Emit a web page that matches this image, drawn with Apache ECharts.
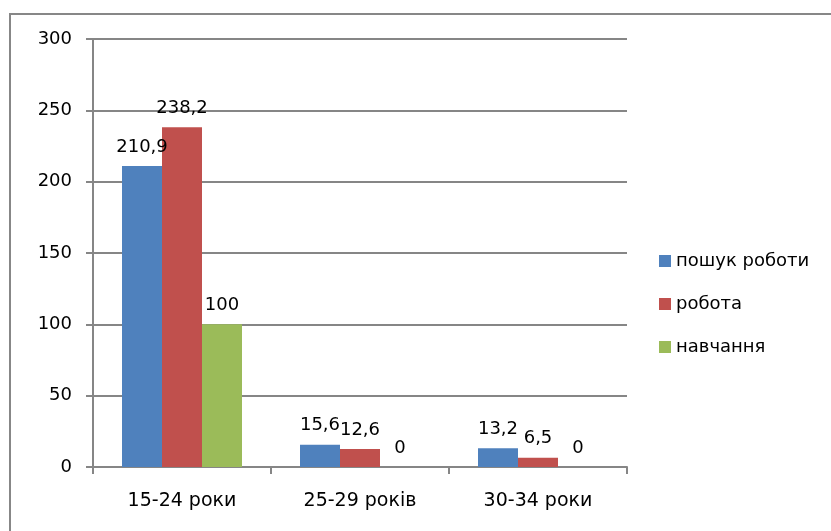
<!DOCTYPE html>
<html>
<head>
<meta charset="utf-8">
<script src="https://cdn.jsdelivr.net/npm/echarts@6/dist/echarts.min.js"></script>
<style>
html,body{margin:0;padding:0;background:#fff;}
#chart{width:831px;height:531px;}
</style>
</head>
<body>
<div id="chart"></div>
<script>
const categories = ['15-24 роки', '25-29 років', '30-34 роки'];
const seriesNames = ['пошук роботи', 'робота', 'навчання'];
const jobSearch = [210.9, 15.6, 13.2];
const work = [238.2, 12.6, 6.5];
const study = [100, 0, 0];
const yTicks = [0, 50, 100, 150, 200, 250, 300];

const colors = ['#4F81BD', '#C0504D', '#9BBB59'];
const font = 'DejaVu Sans';
const fmt = p => String(p.value).replace('.', ',');

function makeSeries(name, data, color) {
  return {
    name: name,
    type: 'bar',
    data: data,
    barWidth: 40,
    barGap: '0%',
    itemStyle: { color: color },
    label: {
      show: true,
      position: 'top',
      distance: 10,
      formatter: fmt,
      fontFamily: font,
      fontSize: 18,
      color: '#000'
    }
  };
}

const chart = echarts.init(document.getElementById('chart'), null, { renderer: 'canvas' });
chart.setOption({
  animation: false,
  backgroundColor: '#fff',
  graphic: [{
    type: 'rect',
    shape: { x: 10, y: 14, width: 840, height: 540 },
    style: { fill: 'none', stroke: '#878787', lineWidth: 2 },
    silent: true,
    z: -1
  }],
  grid: { left: 93, top: 39, right: 204, bottom: 64, containLabel: false },
  legend: {
    orient: 'vertical',
    left: 654,
    top: 247,
    itemWidth: 12,
    itemHeight: 12,
    itemGap: 25,
    icon: 'rect',
    textStyle: { fontFamily: font, fontSize: 18, color: '#000' },
    data: seriesNames
  },
  xAxis: {
    type: 'category',
    data: categories,
    axisLine: { lineStyle: { color: '#868686', width: 2 } },
    axisTick: { show: true, length: 7, lineStyle: { color: '#868686', width: 2 } },
    axisLabel: { fontFamily: font, fontSize: 19, color: '#000', margin: 25 }
  },
  yAxis: {
    type: 'value',
    min: yTicks[0],
    max: yTicks[yTicks.length - 1],
    interval: 50,
    axisLine: { show: true, lineStyle: { color: '#868686', width: 2 } },
    axisTick: { show: true, length: 7, lineStyle: { color: '#868686', width: 2 } },
    axisLabel: { fontFamily: font, fontSize: 18, color: '#000', margin: 21 },
    splitLine: { show: true, lineStyle: { color: '#868686', width: 2 } }
  },
  series: [
    makeSeries(seriesNames[0], jobSearch, colors[0]),
    makeSeries(seriesNames[1], work, colors[1]),
    makeSeries(seriesNames[2], study, colors[2])
  ]
});
</script>
</body>
</html>
